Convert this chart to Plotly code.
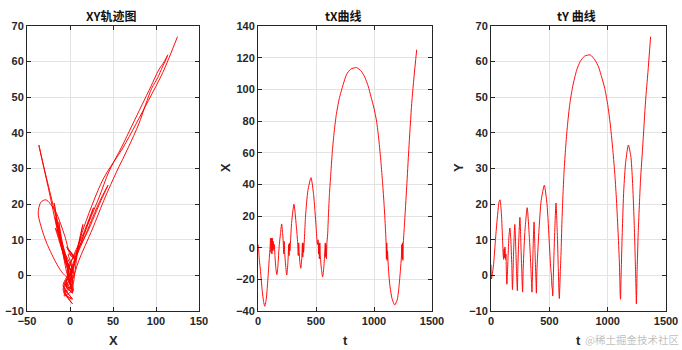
import plotly.graph_objects as go

# ---- data (shared time base) ----
t_vals = [0, 4, 12, 22, 36, 48, 58, 68, 77, 88, 98,
          104, 108, 112, 116, 120, 124, 128, 132, 136, 140,
          146, 154, 162, 170, 178, 184,
          194, 204, 212, 218, 222, 226, 230,
          238, 248, 258, 265, 268, 271, 275,
          290, 310, 330, 342, 347, 351, 356,
          362, 369, 377, 383, 386, 389, 393,
          410, 430, 457, 480, 500, 512, 518, 522, 526, 529, 533, 538,
          546, 557, 568, 576, 580, 583, 586, 590, 594,
          600, 608, 616, 626, 640, 655, 675, 700, 734, 764, 800, 850, 890,
          922, 950, 975, 1000, 1022, 1042, 1060, 1074, 1088, 1100,
          1104, 1107, 1110, 1113, 1116,
          1125, 1138, 1155, 1178, 1200, 1215, 1228, 1236,
          1240, 1243, 1246, 1249, 1252,
          1262, 1282, 1300, 1325, 1345, 1368]

x_vals = [2, 0, -8, -15, -27, -34, -37, -34, -28, -17, -6,
          0, 6, -3, 6, -4, 6, -2, 4, -1, 2,
          -5, -13, -17, -13, -4, 2,
          9, 15, 9, 3, -4, 4, -3,
          -11, -17.3, -9, 2, -5, 3, -2,
          16, 27.4, 14, 3, -5, 3, -4,
          -10, -13, -7, 3, -6, 3, -3,
          20, 36, 44.2, 33, 14, 2, 5, -4, 3, -7, 3, -6,
          -13, -18.4, -12, -2, 3, -6, 2, -7, 3,
          8, 22, 34, 45, 60, 72, 84, 94, 103, 109.5, 112.8, 113.7, 111.5,
          107.5, 102, 95, 88, 80, 68, 54, 41, 26, 10,
          3, -7, 3, -8, -2,
          -14, -24.7, -32, -36.2, -33, -25, -14, -6,
          2, -7, 3, -8, 2,
          14, 38.5, 62, 91, 108, 125]

y_vals = [3, -1, 0.5, 3, 9, 14, 17.5, 20.5, 21.2, 18, 11,
          6, 4.5, 7.5, 5, 8, 4.5, 6, 1, -2.5, 0,
          5, 11, 13.3, 10, 3, -4,
          7, 14.3, 8, 2, -2, -4.3, 2,
          10, 16.3, 7, 0, -3, -4.7, 1,
          12, 19, 10, 2, -2, -4.7, 1,
          9, 15, 7, 1, -2, -5, 1,
          12, 21, 25.3, 20, 9, 2, 0, -3, -4, -5.8, -2, 4,
          12, 20.3, 12, 3, -2, -5, -6.5, -3, 1,
          6, 15, 22, 29, 36, 42, 48, 53, 57.6, 60, 61.5, 61.9, 60.5,
          58.5, 55.5, 52.5, 48, 42.5, 36, 29, 22, 13, 4,
          -1, -5, -6.7, -3, 1,
          12, 24, 32, 36.6, 33, 25, 14, 5,
          0, -4, -8, -4, 1,
          12, 27, 36, 49, 57, 67]

titles = ["XY轨迹图", "tX曲线", "tY 曲线"]
x_labels = ["X", "t", "t"]
y_labels = ["", "X", "Y"]
x_ticks = [[-50, 0, 50, 100, 150], [0, 500, 1000, 1500], [0, 500, 1000, 1500]]
y_ticks = [[-10, 0, 10, 20, 30, 40, 50, 60, 70],
           [-40, -20, 0, 20, 40, 60, 80, 100, 120, 140],
           [-10, 0, 10, 20, 30, 40, 50, 60, 70]]

W, H = 682, 350
x_dom_px = [(27, 199), (258, 432), (491, 666)]
y_top_px, y_bot_px = 26, 311

fig = go.Figure()
series = [(x_vals, y_vals, 0.8), (t_vals, x_vals, 0.6), (t_vals, y_vals, 0.6)]
for i, (xs, ys, sm) in enumerate(series):
    sfx = "" if i == 0 else str(i + 1)
    fig.add_trace(go.Scatter(x=xs, y=ys, mode="lines",
                             line=dict(color="#ff0000", width=0.95, shape="spline", smoothing=sm),
                             xaxis="x" + sfx, yaxis="y" + sfx, showlegend=False,
                             hoverinfo="skip"))

tick_font = dict(family="Liberation Sans, Arial", size=11, color="#262626", weight="bold")
axis_common = dict(showline=True, linecolor="#262626", linewidth=1, mirror="ticks",
                   ticks="inside", ticklen=4, tickcolor="#262626", tickwidth=1,
                   showgrid=True, gridcolor="#e3e3e3", gridwidth=1, zeroline=False,
                   tickfont=tick_font, fixedrange=True, automargin=False)

layout = dict(width=W, height=H, margin=dict(l=0, r=0, t=0, b=0, autoexpand=False),
              paper_bgcolor="white", plot_bgcolor="white", showlegend=False)
y0 = 1 - y_bot_px / H
y1 = 1 - y_top_px / H
annotations = []
for i in range(3):
    sfx = "" if i == 0 else str(i + 1)
    a, b = x_dom_px[i]
    xr = [x_ticks[i][0], x_ticks[i][-1]]
    yr = [y_ticks[i][0], y_ticks[i][-1]]
    layout["xaxis" + sfx] = dict(axis_common, domain=[a / W, b / W], range=xr,
                                 tickvals=x_ticks[i], anchor="y" + sfx)
    layout["yaxis" + sfx] = dict(axis_common, domain=[y0, y1], range=yr,
                                 tickvals=y_ticks[i], anchor="x" + sfx)
    cx = (a + b) / 2 / W
    annotations.append(dict(text=titles[i], x=cx - 2 / W, y=1 - 16 / H, xref="paper", yref="paper",
                            showarrow=False, xanchor="center", yanchor="middle",
                            font=dict(family="Noto Sans CJK SC", size=12, color="#111111", weight="bold")))
    annotations.append(dict(text=x_labels[i], x=cx, y=1 - 340 / H, xref="paper", yref="paper",
                            showarrow=False, xanchor="center", yanchor="middle",
                            font=dict(family="Liberation Sans, Arial", size=13, color="#262626", weight="bold")))
    if y_labels[i]:
        annotations.append(dict(text=y_labels[i], x=(a - 33) / W, y=1 - 168 / H, xref="paper", yref="paper",
                                showarrow=False, xanchor="center", yanchor="middle", textangle=-90,
                                font=dict(family="Liberation Sans, Arial", size=13, color="#262626", weight="bold")))

annotations.append(dict(text="@稀土掘金技术社区", x=681 / W, y=1 - 339 / H, xref="paper", yref="paper",
                        showarrow=False, xanchor="right", yanchor="middle",
                        font=dict(family="Noto Sans CJK SC", size=10.5, color="rgba(170,170,170,0.75)")))
layout["annotations"] = annotations
fig.update_layout(**layout)
fig.write_html("out.html")
